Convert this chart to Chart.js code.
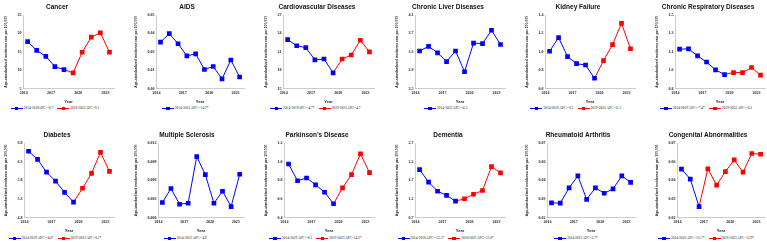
<!DOCTYPE html>
<html>
<head>
<meta charset="utf-8">
<script src="https://cdn.jsdelivr.net/npm/chart.js@4.4.1/dist/chart.umd.min.js"></script>
<style>
  body { margin: 0; background: #fff; width: 767px; height: 242px; overflow: hidden; position: relative; }
  .panel { position: absolute; width: 130px; }
  .panel canvas { position: absolute; left: 0; top: 0; }
  .legend { position: absolute; left: 0; width: 110px; text-align: center; white-space: nowrap;
            font-family: "Liberation Serif", serif; font-size: 3.5px; color: #222; line-height: 4px; }
  .item { display: inline-block; margin: 0 2px; }
  .sym { display: inline-block; position: relative; width: 12px; height: 4px; vertical-align: middle; margin-right: 1px; }
  .sym b { position: absolute; left: 0; right: 0; top: 1.5px; height: 1px; }
  .sym i { position: absolute; left: 4.3px; top: 0.3px; width: 3.4px; height: 3.4px; }
</style>
</head>
<body>
<script>
// years on the x axis
const years = ["2014", "2015", "2016", "2017", "2018", "2019", "2020", "2021", "2022", "2023"];

const titles = [
  "Cancer", "AIDS", "Cardiovascular Diseases", "Chronic Liver Diseases", "Kidney Failure", "Chronic Respiratory Diseases",
  "Diabetes", "Multiple Sclerosis", "Parkinson\u2019s Disease", "Dementia", "Rheumatoid Arthritis", "Congenital Abnormalities"
];

// age-standardized incidence rate per 100,000
const cancer = [17.8, 15.4, 13.8, 11.0, 10.2, 9.3, 14.9, 19.0, 20.2, 14.9];
const aids = [0.0316, 0.0374, 0.0305, 0.0223, 0.0237, 0.0131, 0.0151, 0.0067, 0.0195, 0.0080];
const cardiovascular = [23.0, 22.0, 21.7, 19.7, 19.85, 17.6, 19.85, 20.5, 22.9, 21.0];
const chronicLiver = [3.32, 3.42, 3.28, 3.09, 3.32, 2.87, 3.49, 3.48, 3.77, 3.46];
const kidneyFailure = [1.007, 1.155, 0.949, 0.872, 0.858, 0.714, 0.905, 1.078, 1.309, 1.034];
const chronicRespiratory = [1.176, 1.179, 1.112, 1.054, 0.980, 0.935, 0.954, 0.954, 1.002, 0.929];
const diabetes = [6.58, 6.36, 6.02, 5.78, 5.48, 5.22, 5.59, 5.99, 6.55, 6.04];
const multipleSclerosis = [0.00246, 0.0047, 0.00218, 0.00234, 0.00982, 0.00692, 0.00234, 0.00426, 0.0018, 0.00699];
const parkinsons = [0.975, 0.796, 0.826, 0.753, 0.673, 0.550, 0.720, 0.862, 1.084, 0.883];
const dementia = [1.99, 1.655, 1.41, 1.30, 1.145, 1.21, 1.33, 1.43, 2.07, 1.90];
const rheumatoid = [0.0300, 0.0298, 0.0400, 0.0480, 0.0323, 0.0400, 0.0364, 0.0393, 0.0480, 0.0437];
const congenital = [0.0525, 0.0459, 0.0275, 0.0527, 0.0418, 0.0509, 0.0587, 0.0505, 0.0630, 0.0625];

const seriesList = [cancer, aids, cardiovascular, chronicLiver, kidneyFailure, chronicRespiratory,
  diabetes, multipleSclerosis, parkinsons, dementia, rheumatoid, congenital];

// how many points belong to the first (blue) joinpoint segment
const blueCounts = [5, 10, 6, 10, 6, 6, 6, 10, 6, 5, 10, 3];

const legendTexts = [
  ["2014-2018APC=-8.7", "2018-2023 APC=9.1"],
  ["2014-2023 APC=-14.7*"],
  ["2014-2019APC=-4.7*", "2019-2023 APC=4.7"],
  ["2014-2023 APC=-0.3"],
  ["2014-2019 APC=-6.1", "2019-2023 APC=11.5"],
  ["2014-2019 APC=-7.4*", "2019-2023 APC=-0.3"],
  ["2014-2019 APC=-4.0*", "2019-2023 APC=8.1*"],
  ["2014-2023 APC=-4.9"],
  ["2014-2019 APC=-8.2", "2019-2023 APC=14.2*"],
  ["2014-2018 APC=-13.5*", "2018-2023 APC=12.8*"],
  ["2014-2023 APC=3.7*"],
  ["2014-2016 APC=-25.7*", "2016-2023 APC=12.9*"]
];

// y axis ticks (bottom to top) and decimals shown
const yTicks = [
  [5, 10, 15, 20, 25],
  [0, 0.0125, 0.025, 0.0375, 0.05],
  [15, 18, 21, 24, 27],
  [2.5, 2.9, 3.3, 3.7, 4.1],
  [0.6, 0.8, 1.0, 1.2, 1.4],
  [0.8, 0.975, 1.15, 1.325, 1.5],
  [4.8, 5.3, 5.8, 6.3, 6.8],
  [0, 0.003, 0.006, 0.009, 0.012],
  [0.4, 0.6, 0.8, 1.0, 1.2],
  [0.7, 1.2, 1.7, 2.2, 2.7],
  [0.02, 0.0325, 0.045, 0.0575, 0.07],
  [0.02, 0.0325, 0.045, 0.0575, 0.07]
];
const yDecimals = [0, 2, 0, 1, 1, 1, 1, 3, 1, 1, 2, 2];

const BLUE = "#0000ff";
const RED = "#ff0000";
const AXIS_GRAY = "#bfbfbf";

function buildLegend(texts, top) {
  const div = document.createElement("div");
  div.className = "legend";
  div.style.top = top + "px";
  texts.forEach((t, k) => {
    const color = k === 0 ? BLUE : RED;
    const item = document.createElement("span");
    item.className = "item";
    item.innerHTML = '<span class="sym"><b style="background:' + color + '"></b><i style="background:' + color + '"></i></span>' + t;
    div.appendChild(item);
  });
  return div;
}

function makePanel(i) {
  const row = Math.floor(i / 6);
  const col = i % 6;
  const panel = document.createElement("div");
  panel.className = "panel";
  panel.style.left = (col * 130.2) + "px";
  panel.style.top = (row === 0 ? 0 : 128) + "px";
  const height = row === 0 ? 105 : 106;
  panel.style.height = (height + 10) + "px";
  document.body.appendChild(panel);

  const canvas = document.createElement("canvas");
  canvas.width = 130;
  canvas.height = height;
  panel.appendChild(canvas);
  panel.appendChild(buildLegend(legendTexts[i], row === 0 ? 106 : 108));

  const values = seriesList[i];
  const k = blueCounts[i];
  const blueData = values.map((v, j) => (j < k ? v : null));
  const redData = values.map((v, j) => (k < values.length && j >= k - 1 ? v : null));
  const ticks = yTicks[i];

  const datasets = [{
    data: blueData,
    borderColor: BLUE,
    backgroundColor: BLUE,
    borderWidth: 1,
    pointStyle: "rect",
    pointRadius: 3.3,
    pointBorderWidth: 0,
    spanGaps: false
  }];
  if (k < values.length) {
    datasets.push({
      data: redData,
      borderColor: RED,
      backgroundColor: RED,
      borderWidth: 1,
      pointStyle: "rect",
      pointRadius: (ctx) => (ctx.dataIndex === k - 1 ? 0 : 3.3),
      pointBorderWidth: 0
    });
  }

  new Chart(canvas.getContext("2d"), {
    type: "line",
    data: { labels: years, datasets: datasets },
    options: {
      responsive: false,
      animation: false,
      events: [],
      layout: { padding: { left: 0, right: 16, top: 0, bottom: 0.6 } },
      plugins: {
        legend: { display: false },
        tooltip: { enabled: false },
        title: {
          display: true,
          text: titles[i],
          color: "#111",
          font: { family: "Liberation Sans", size: 6.5, weight: "bold" },
          padding: { top: 3, bottom: 4.2 }
        }
      },
      scales: {
        x: {
          type: "category",
          offset: true,
          grid: { display: false, drawTicks: false },
          border: { display: true, color: AXIS_GRAY, width: 0.8 },
          ticks: {
            autoSkip: false,
            maxRotation: 0,
            padding: 1.8,
            labelOffset: -4,
            color: "#222",
            font: { family: "Liberation Serif", size: 4, weight: "bold" },
            callback: (val, idx) => (idx % 3 === 0 ? years[idx] : "")
          },
          title: {
            display: true,
            text: "Year",
            color: "#222",
            font: { family: "Liberation Sans", size: 4, weight: "bold" },
            padding: { top: 2.4, bottom: 0 }
          }
        },
        y: {
          min: ticks[0],
          max: ticks[ticks.length - 1],
          grid: { display: false, drawTicks: false },
          border: { display: true, color: AXIS_GRAY, width: 0.8 },
          afterBuildTicks: (scale) => { scale.ticks = ticks.map((v) => ({ value: v })); },
          ticks: {
            padding: 1.5,
            color: "#222",
            font: { family: "Liberation Serif", size: 4, weight: "bold" },
            callback: (val) => Number(val).toFixed(yDecimals[i])
          },
          title: {
            display: true,
            text: "Age-standardized incidence rate per 100,000",
            color: "#222",
            font: { family: "Liberation Sans", size: 3.4, weight: "bold" },
            padding: { top: 4, bottom: 8 }
          }
        }
      }
    }
  });
}

for (let i = 0; i < titles.length; i++) makePanel(i);
</script>
</body>
</html>
